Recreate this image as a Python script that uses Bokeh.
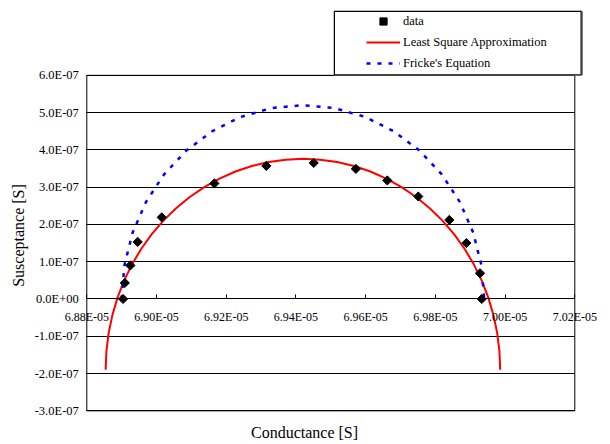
import math
from bokeh.plotting import figure
from bokeh.models import (Range1d, FixedTicker, CustomJSTickFormatter, Legend,
                          LegendItem, Title, BoxAnnotation)
from bokeh.embed import file_html
from bokeh.resources import INLINE

# ---- data ----
data_g = [6.8904e-5, 6.8909e-5, 6.8925e-5, 6.8946e-5, 6.9015e-5, 6.9166e-5, 6.9315e-5,
          6.9451e-5, 6.9572e-5, 6.9662e-5, 6.9751e-5, 6.9840e-5, 6.9889e-5, 6.9928e-5, 6.9933e-5]
data_b = [0.00e-7, 0.43e-7, 0.90e-7, 1.53e-7, 2.19e-7, 3.10e-7, 3.57e-7,
          3.65e-7, 3.49e-7, 3.18e-7, 2.75e-7, 2.12e-7, 1.50e-7, 0.69e-7, 0.00e-7]

lsq_g = [6.88540e-5, 6.88562e-5, 6.88626e-5, 6.88733e-5, 6.88881e-5, 6.89070e-5, 6.89298e-5,
         6.89564e-5, 6.89864e-5, 6.90198e-5, 6.90562e-5, 6.90954e-5, 6.91370e-5, 6.91808e-5,
         6.92264e-5, 6.92735e-5, 6.93217e-5, 6.93707e-5, 6.94200e-5, 6.94693e-5, 6.95183e-5,
         6.95665e-5, 6.96136e-5, 6.96592e-5, 6.97030e-5, 6.97447e-5, 6.97838e-5, 6.98202e-5,
         6.98536e-5, 6.98836e-5, 6.99102e-5, 6.99330e-5, 6.99519e-5, 6.99667e-5, 6.99774e-5,
         6.99838e-5, 6.99860e-5]
lsq_b = [-1.900e-7, -1.407e-7, -0.917e-7, -0.435e-7, 0.036e-7, 0.492e-7, 0.930e-7,
         1.347e-7, 1.738e-7, 2.102e-7, 2.436e-7, 2.736e-7, 3.002e-7, 3.230e-7,
         3.419e-7, 3.567e-7, 3.674e-7, 3.738e-7, 3.760e-7, 3.738e-7, 3.674e-7,
         3.567e-7, 3.419e-7, 3.230e-7, 3.002e-7, 2.736e-7, 2.436e-7, 2.102e-7,
         1.738e-7, 1.347e-7, 0.930e-7, 0.492e-7, 0.036e-7, -0.435e-7, -0.917e-7,
         -1.407e-7, -1.900e-7]

fricke_g = [6.89000e-5, 6.89079e-5, 6.89314e-5, 6.89697e-5, 6.90217e-5, 6.90858e-5, 6.91600e-5,
            6.92422e-5, 6.93297e-5, 6.94200e-5, 6.95103e-5, 6.95978e-5, 6.96800e-5, 6.97543e-5,
            6.98183e-5, 6.98703e-5, 6.99086e-5, 6.99321e-5, 6.99400e-5]
fricke_b = [0.000e-7, 0.903e-7, 1.779e-7, 2.600e-7, 3.343e-7, 3.983e-7, 4.503e-7,
            4.886e-7, 5.121e-7, 5.200e-7, 5.121e-7, 4.886e-7, 4.503e-7, 3.983e-7,
            3.343e-7, 2.600e-7, 1.779e-7, 0.903e-7, 0.000e-7]

x_ticks = [6.88e-5, 6.90e-5, 6.92e-5, 6.94e-5, 6.96e-5, 6.98e-5, 7.00e-5, 7.02e-5]
x_labels = ["6.88E-05", "6.90E-05", "6.92E-05", "6.94E-05", "6.96E-05", "6.98E-05", "7.00E-05", "7.02E-05"]
y_ticks = [-3e-7, -2e-7, -1e-7, 0.0, 1e-7, 2e-7, 3e-7, 4e-7, 5e-7, 6e-7]
y_labels = ["-3.0E-07", "-2.0E-07", "-1.0E-07", "0.0E+00", "1.0E-07", "2.0E-07",
            "3.0E-07", "4.0E-07", "5.0E-07", "6.0E-07"]

FONT = "Liberation Serif"

# ---- layout geometry (page pixels) ----
W, H = 608, 444
FRAME_BOTTOM = 419           # frame spans x 0..W, y 0..FRAME_BOTTOM
PX_LEFT, PX_RIGHT = 86.3, 574.3   # plot-area left / right
PX_TOP, PX_BOT = 75.0, 411.3      # plot-area top / bottom
X0, X1 = x_ticks[0], x_ticks[-1]
Y0, Y1 = y_ticks[0], y_ticks[-1]
sx = (X1 - X0) / (PX_RIGHT - PX_LEFT)
sy = (Y1 - Y0) / (PX_BOT - PX_TOP)


def px2x(px):
    return X0 + (px - PX_LEFT) * sx


def px2y(py):
    return Y1 - (py - PX_TOP) * sy


JS = """
let best = 0;
for (let i = 1; i < tvals.length; i++) {
  if (Math.abs(tvals[i] - tick) < Math.abs(tvals[best] - tick)) best = i;
}
return tlabels[best];
"""

p = figure(width=W, height=H, title=None,
           x_range=Range1d(px2x(0), px2x(W)), y_range=Range1d(px2y(FRAME_BOTTOM), px2y(0)),
           output_backend="svg", toolbar_location=None,
           min_border_left=0, min_border_right=0, min_border_top=0,
           min_border_bottom=H - FRAME_BOTTOM)
p.background_fill_color = "white"
p.border_fill_color = "white"
p.outline_line_color = None

# x axis crossing at zero
xa = p.xaxis[0]
xa.fixed_location = 0
xa.bounds = (X0, X1)
xa.ticker = FixedTicker(ticks=x_ticks)
xa.formatter = CustomJSTickFormatter(args=dict(tvals=x_ticks, tlabels=x_labels), code=JS)
xa.major_tick_in = 4
xa.major_tick_out = 0
xa.minor_tick_line_color = None
xa.major_tick_line_color = "black"
xa.axis_line_color = "black"
xa.major_label_standoff = 11
xa.major_label_text_font = FONT
xa.major_label_text_font_size = "12px"
xa.major_label_text_color = "black"

ya = p.yaxis[0]
ya.fixed_location = X0
ya.bounds = (Y0, 6.4e-7)
ya.ticker = FixedTicker(ticks=y_ticks)
ya.formatter = CustomJSTickFormatter(args=dict(tvals=y_ticks, tlabels=y_labels), code=JS)
ya.major_tick_in = 0
ya.major_tick_out = 0
ya.minor_tick_line_color = None
ya.axis_line_color = None
ya.major_label_standoff = 8
ya.major_label_text_font = FONT
ya.major_label_text_font_size = "12.5px"
ya.major_label_text_color = "black"
ya.axis_label = "Susceptance [S]"
ya.axis_label_text_font = FONT
ya.axis_label_text_font_size = "16px"
ya.axis_label_text_font_style = "normal"
ya.axis_label_text_color = "black"
ya.axis_label_standoff = 4

p.xgrid.visible = False
p.ygrid.grid_line_color = "black"
p.ygrid.grid_line_width = 1
p.ygrid.cross_bounds = (X0, X1)

t = Title(text="Conductance [S]", align="center", text_font=FONT, text_font_size="16px",
          text_font_style="normal", text_color="black", standoff=7)
p.add_layout(t, "below")

r_red = p.line(lsq_g, lsq_b, line_color="#FF0000", line_width=2)
r_blue = p.line(fricke_g, fricke_b, line_color="#0000FF", line_width=2.5, line_dash="4 7")
r_data = p.scatter(data_g, data_b, marker="square", size=6.5, angle=math.pi / 4,
                   fill_color="black", line_color="black")

# plot-area border
p.add_layout(BoxAnnotation(left=X0, right=X1, bottom=Y0, top=Y1,
                           fill_alpha=0, line_color="black", line_width=1, line_alpha=1))
# legend box (with grey shadow edge on the right)
p.add_layout(BoxAnnotation(left=px2x(334), right=px2x(581.5), bottom=px2y(74.5), top=px2y(11),
                           fill_alpha=0, line_color="#808080", line_width=2, line_alpha=1))
p.add_layout(BoxAnnotation(left=px2x(334), right=px2x(580.5), bottom=px2y(74.5), top=px2y(11),
                           fill_color="white", fill_alpha=1, line_color="black", line_width=1,
                           line_alpha=1))

legend = Legend(items=[LegendItem(label="data", renderers=[r_data]),
                       LegendItem(label="Least Square Approximation", renderers=[r_red]),
                       LegendItem(label="Fricke's Equation", renderers=[r_blue])],
                location=(364, FRAME_BOTTOM - 75.3), padding=2, spacing=3, margin=0,
                glyph_width=34, glyph_height=18, label_height=18, label_standoff=3,
                label_text_font=FONT, label_text_font_size="12.5px", label_text_color="black",
                border_line_alpha=0, background_fill_alpha=0)
p.add_layout(legend)

open("out.html", "w").write(file_html(p, INLINE))
